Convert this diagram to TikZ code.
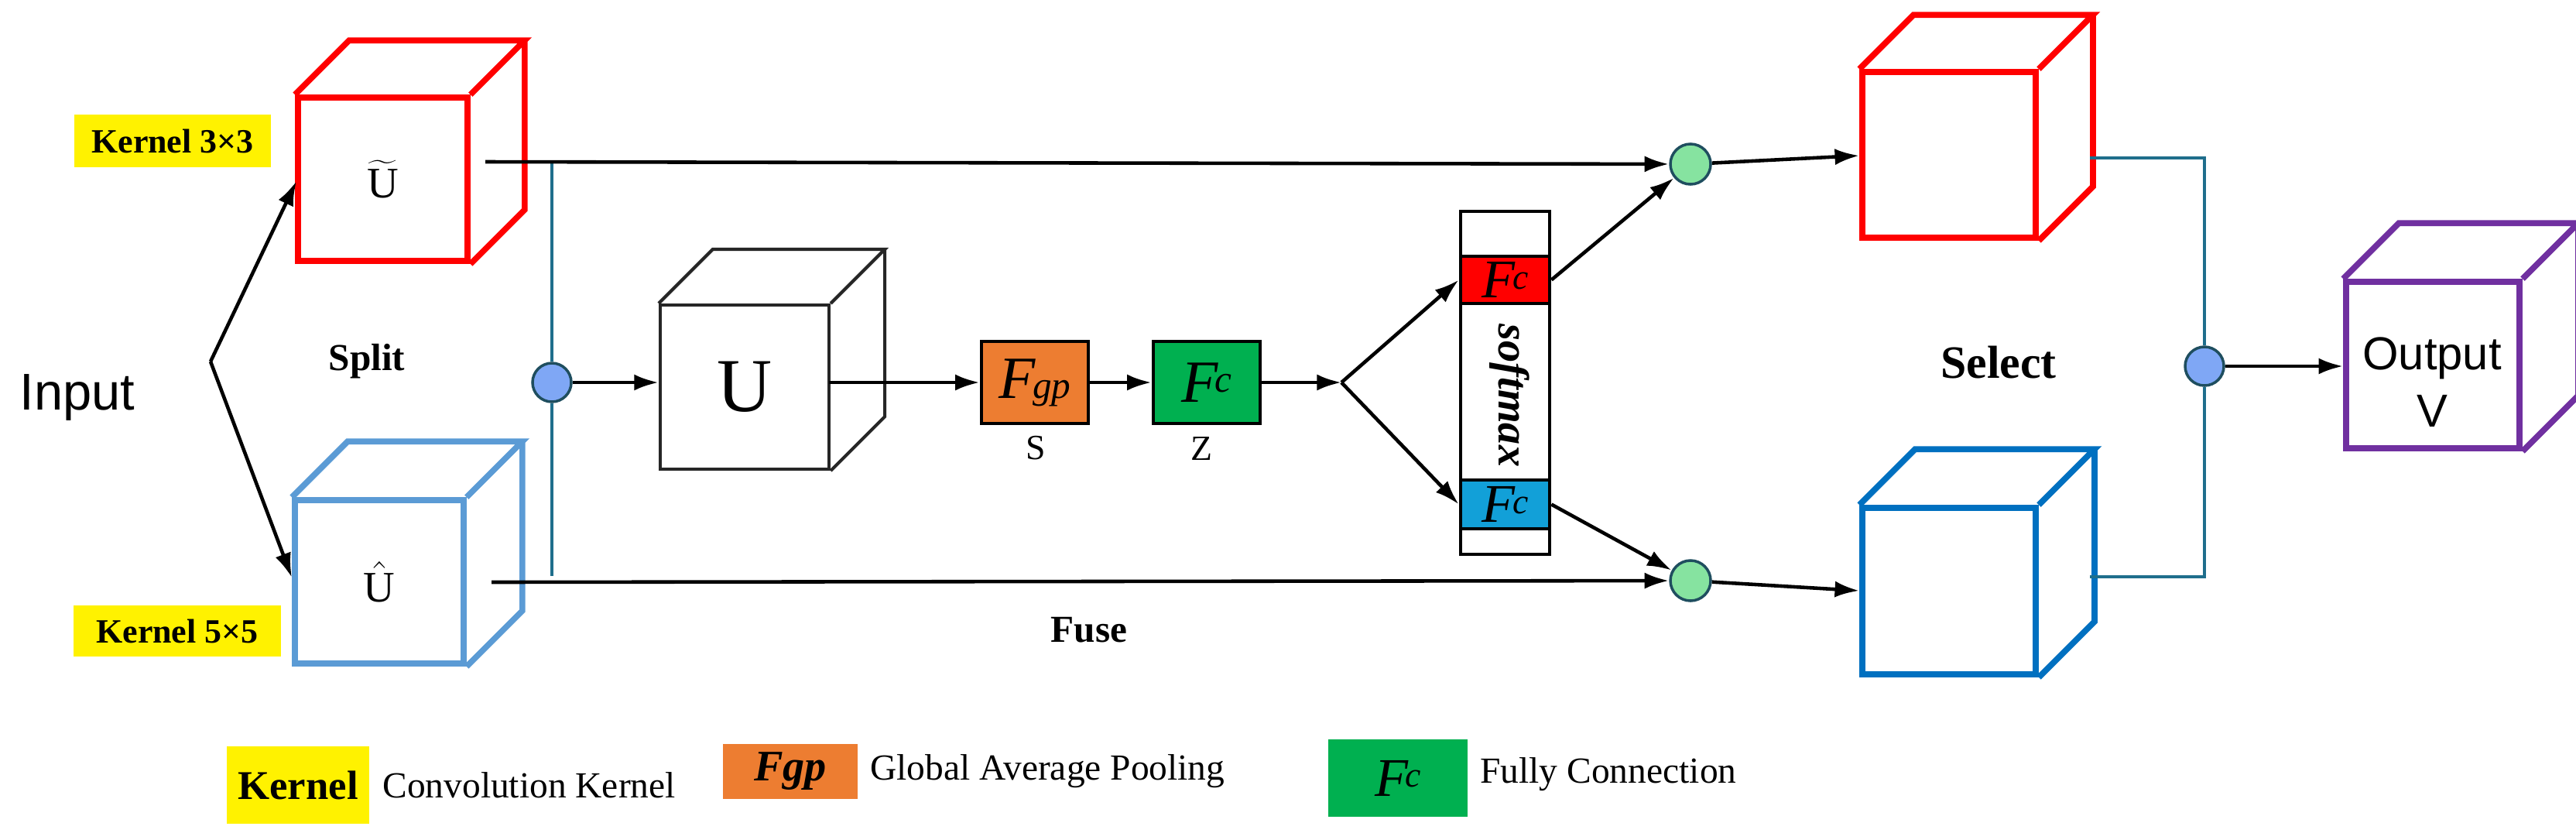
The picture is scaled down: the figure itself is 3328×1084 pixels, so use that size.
\documentclass[tikz,border=0pt]{standalone}
\usepackage{fontspec}
\setmainfont{Liberation Serif}
\newfontfamily\sansf{Liberation Sans}
\usetikzlibrary{arrows.meta,fit}
\definecolor{cred}{HTML}{FF0000}
\definecolor{clblue}{HTML}{5B9BD5}
\definecolor{cdblue}{HTML}{0070C0}
\definecolor{cpurple}{HTML}{7030A0}
\definecolor{corange}{HTML}{ED7D31}
\definecolor{cgreen}{HTML}{00B050}
\definecolor{cfcblue}{HTML}{12A0D8}
\definecolor{cteal}{HTML}{1F6E8C}
\definecolor{ccircb}{HTML}{7FA7F5}
\definecolor{ccircg}{HTML}{86E3A0}
\definecolor{cedge}{HTML}{1F4E5F}
\tikzset{
  face/.style={inner sep=0pt},
  arr/.style={-{Latex[length=9pt,width=6pt]},line width=1.3pt},
  tl/.style={line width=1.2pt,draw=cteal},
  circb/.style={circle,draw=cedge,fill=ccircb,minimum size=0.5cm,inner sep=0pt,line width=1pt},
  circg/.style={circle,draw=cedge,fill=ccircg,minimum size=0.52cm,inner sep=0pt,line width=1pt},
  kbox/.style={fill=yellow,inner sep=0pt,font=\bfseries\fontsize{12.5}{14}\selectfont},
  blk/.style={draw,line width=1.3pt,inner sep=0pt},
  lab/.style={font=\bfseries\fontsize{14}{16}\selectfont},
  leg/.style={anchor=west,font=\fontsize{13.5}{15}\selectfont},
}
\newcommand\mkcube[8]{%
  \node[face,draw=#2,line width=#8,fit={(#3,#4)(#5,#6)}] (#1) {};
  \draw[#2,line width=#8,line join=miter]
    (#1.north west) -- ++(#7,-#7) -- ([shift={(#7,-#7)}]#1.north east) -- (#1.north east)
    ([shift={(#7,-#7)}]#1.north east) -- ([shift={(#7,-#7)}]#1.south east) -- (#1.south east);
}
\newcommand\fcsym[2]{{\itshape\fontsize{#1}{#1}\selectfont F\kern-0.05em\fontsize{#2}{#2}\selectfont\raisebox{0.55ex}{c}}}
\begin{document}
\begin{tikzpicture}[x=0.01cm,y=-0.01cm]
\useasboundingbox (0,0) rectangle (3328,1084);
% cubes
\mkcube{ut}{cred}{385}{126}{604}{337}{70}{2.2pt}
\mkcube{uh}{clblue}{381}{646}{599}{857}{72}{2.2pt}
\mkcube{u}{black!85}{853}{394}{1071}{606}{70}{1.2pt}
\mkcube{v1}{cred}{2406}{93}{2630}{307}{70}{2.2pt}
\mkcube{v2}{cdblue}{2406}{656}{2630}{871}{72}{2.2pt}
\mkcube{out}{cpurple}{3031}{364}{3255}{579}{72}{2.2pt}
\node[font=\fontsize{16}{18}\selectfont] at (ut) {$\widetilde{\mathrm{U}}$};
\node[font=\fontsize{16}{18}\selectfont] at (uh) {$\hat{\mathrm{U}}$};
\node[font=\fontsize{28}{30}\selectfont] at (u) {U};
\node[font=\sansf\fontsize{17}{21}\selectfont,align=center] at (3142,494) {Output\\V};
% labels
\node[kbox,minimum width=2.54cm,minimum height=0.67cm] (k3) at (223,182) {Kernel 3×3};
\node[kbox,minimum width=2.67cm,minimum height=0.66cm] (k5) at (229,815) {Kernel 5×5};
\node[font=\sansf\fontsize{19}{22}\selectfont] (in) at (100,513) {Input};
\node[lab] at (474,467) {Split};
\node[lab] at (1407,814) {Fuse};
\node[lab,font=\bfseries\fontsize{17}{19}\selectfont] at (2582,468) {Select};
% split arrows
\coordinate (fork) at (272,467);
\draw[arr] (fork) -- (383,234);
\draw[arr] (fork) -- (377,746);
% circles
\node[circb] (cb1) at (713,494) {};
\node[circb] (cb2) at (2848,473) {};
\node[circg] (cg1) at (2184,212) {};
\node[circg] (cg2) at (2184,750) {};
% teal lines
\coordinate (t1) at (713,209);
\coordinate (t2) at (713,744);
\draw[tl] (t1) -- (cb1) -- (t2);
\draw[tl] (2700,204) -- (2848,204) -- (cb2) -- (2848,745) -- (2700,745);
% long lines
\coordinate (s1) at (627,209);
\coordinate (s2) at (635,752);
\draw[arr] (s1) -- (cg1);
\draw[arr] (s2) -- (cg2);
\draw[arr] (cb1) -- (u.west |- cb1);
% fgp, fc
\node[blk,fill=corange,minimum width=1.38cm,minimum height=1.06cm] (fgp) at (1337,494) {\itshape\fontsize{22}{22}\selectfont F\kern-0.05em\fontsize{14}{14}\selectfont gp};
\node[blk,fill=cgreen,minimum width=1.38cm,minimum height=1.06cm] (fcz) at (1559,494) {\fcsym{22}{14}};
\node[font=\fontsize{13}{14}\selectfont] at (1338,579) {S};
\node[font=\fontsize{13}{14}\selectfont] at (1552,580) {Z};
\draw[arr] (1071,494) -- (fgp);
\draw[arr] (fgp) -- (fcz);
\coordinate (f2) at (1733,494);
\draw[arr] (fcz) -- (f2);
% softmax column
\node[blk,minimum width=1.15cm,minimum height=4.43cm] (sm) at (1944.5,494.5) {};
\node[blk,fill=cred,minimum width=1.15cm,minimum height=0.61cm] (fr) at (1944.5,361.5) {\fcsym{20}{13}};
\node[blk,fill=cfcblue,minimum width=1.15cm,minimum height=0.63cm] (fb) at (1944.5,651.5) {\fcsym{20}{13}};
\node[rotate=-90,font=\bfseries\itshape\fontsize{16}{18}\selectfont] at (1950,511) {softmax};
\draw[arr] (f2) -- (fr.west);
\draw[arr] (f2) -- (fb.west);
\draw[arr] (fr.east) -- (cg1);
\draw[arr] (fb.east) -- (cg2);
\draw[arr] (cg1) -- (v1.west |- 0,201);
\draw[arr] (cg2) -- (v2.west |- 0,763);
\draw[arr] (cb2) -- (out.west |- cb2);
% legend
\node[kbox,minimum width=1.84cm,minimum height=0.99cm,font=\bfseries\fontsize{15}{17}\selectfont] (lk) at (385,1014) {Kernel};
\node[leg] at (482,1014) {Convolution Kernel};
\node[fill=corange,minimum width=1.73cm,minimum height=0.71cm,inner sep=0pt] (lf) at (1021,996) {\bfseries\itshape\fontsize{16}{18}\selectfont Fgp};
\node[leg] at (1112,996) {Global Average Pooling};
\node[fill=cgreen,minimum width=1.79cm,minimum height=0.99cm,inner sep=0pt] (lc) at (1806,1005) {\fcsym{20}{13}};
\node[leg] at (1900,1000) {Fully Connection};
\end{tikzpicture}
\end{document}
